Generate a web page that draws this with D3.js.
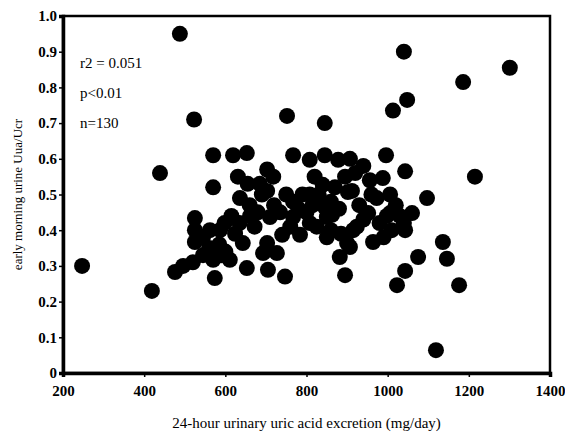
<!DOCTYPE html>
<html>
<head>
<meta charset="utf-8">
<script src="https://cdn.jsdelivr.net/npm/d3@7"></script>
<style>
  body { margin: 0; background: #fff; }
  text { font-family: "Liberation Serif", "DejaVu Serif", serif; }
</style>
</head>
<body>
<svg id="chart"></svg>
<script>
// 24-hour urinary uric acid (mg/day)
const uricAcid = [
  247, 419, 488, 523, 439, 752, 845, 1040, 1186, 1301, 1048, 1013, 1215, 996, 1043, 1097,
  1136, 1146, 1176, 1119, 1075, 1043, 1023, 998, 1060, 1040, 1043,
  570, 619, 653, 631, 570, 703, 636, 525,
  661, 525, 525, 562, 587, 570, 574, 476, 496, 520, 611, 653, 643, 624, 693,
  767, 808, 845, 878, 907, 895, 718, 840, 808, 902, 703, 767, 845, 863,
  703, 727, 705, 747, 740, 784, 808, 850, 882, 895, 900, 915, 710, 767, 850,
  940, 920, 988, 956, 973, 1006, 912, 952, 1006,
  924, 907, 964,
  545, 560, 585, 600, 598, 615, 590, 545, 635, 660, 680, 690, 672, 655, 685,
  720, 735, 750, 760, 780, 790, 800, 815, 825, 830, 860, 870, 880, 885, 860,
  930, 940, 960, 980, 990, 1010, 1020, 1030, 820
]
// early morning urine Uua/Ucr
const uaUcr = [
  0.30, 0.23, 0.95, 0.71, 0.56, 0.72, 0.70, 0.90, 0.815, 0.855, 0.765, 0.735, 0.55, 0.61, 0.565, 0.49,
  0.367, 0.32, 0.246, 0.064, 0.325, 0.286, 0.246, 0.44, 0.448, 0.42, 0.40,
  0.61, 0.61, 0.616, 0.55, 0.52, 0.57, 0.49, 0.434,
  0.44, 0.40, 0.367, 0.40, 0.40, 0.317, 0.266, 0.283, 0.30, 0.31, 0.317, 0.294, 0.364, 0.39, 0.336,
  0.61, 0.597, 0.61, 0.597, 0.60, 0.55, 0.55, 0.527, 0.50, 0.507, 0.51, 0.48, 0.465, 0.443,
  0.364, 0.336, 0.289, 0.27, 0.387, 0.387, 0.42, 0.38, 0.325, 0.274, 0.364, 0.40, 0.437, 0.437, 0.437,
  0.58, 0.56, 0.546, 0.54, 0.49, 0.50, 0.51, 0.448, 0.448,
  0.41, 0.353, 0.367,
  0.38, 0.35, 0.36, 0.34, 0.42, 0.44, 0.33, 0.33, 0.42, 0.47, 0.45, 0.50, 0.41, 0.53, 0.53,
  0.47, 0.45, 0.50, 0.41, 0.46, 0.50, 0.45, 0.47, 0.41, 0.50, 0.48, 0.52, 0.46, 0.39, 0.40,
  0.47, 0.43, 0.50, 0.42, 0.38, 0.40, 0.47, 0.44, 0.55
]
const xTicks = [200, 400, 600, 800, 1000, 1200, 1400]
const yTicks = [0, 0.1, 0.2, 0.3, 0.4, 0.5, 0.6, 0.7, 0.8, 0.9, 1.0]
const yTickLabels = ["0", "0.1", "0.2", "0.3", "0.4", "0.5", "0.6", "0.7", "0.8", "0.9", "1.0"]
const stats = ["r2 = 0.051", "p<0.01", "n=130"]

const width = 565, height = 433
const margin = {top: 16, right: 15, bottom: 60, left: 63}
const w = width - margin.left - margin.right,
      h = height - margin.top - margin.bottom

const svg = d3.select("#chart").attr("width", width).attr("height", height)
const g = svg.append("g").attr("transform", "translate(" + margin.left + "," + margin.top + ")")

const x = d3.scaleLinear().domain([200, 1400]).range([0, w])
const y = d3.scaleLinear().domain([0, 1]).range([h, 0])

// frame
g.append("rect")
  .attr("width", w).attr("height", h)
  .attr("fill", "none").attr("stroke", "#000").attr("stroke-width", 2.5)

const xAxis = g.append("g")
  .attr("transform", "translate(0," + h + ")")
  .call(d3.axisBottom(x).tickValues(xTicks).tickSize(4).tickPadding(8).tickFormat(d3.format("d")))
const yAxis = g.append("g")
  .call(d3.axisLeft(y).tickValues(yTicks).tickSize(4).tickPadding(2).tickFormat((d, i) => yTickLabels[i]))

;[xAxis, yAxis].forEach(a => {
  a.select(".domain").attr("stroke-width", 3.5)
  a.selectAll(".tick line").attr("stroke-width", 1.5)
  a.selectAll("text")
    .style("font-family", "'Liberation Serif', serif")
    .style("font-size", "15px").style("font-weight", "bold").attr("fill", "#000")
})

g.selectAll("circle.dot")
  .data(uricAcid.map((v, i) => [v, uaUcr[i]]))
  .enter().append("circle")
  .attr("class", "dot")
  .attr("cx", d => x(d[0]))
  .attr("cy", d => y(d[1]))
  .attr("r", 8)
  .attr("fill", "#000")

g.selectAll("text.stat")
  .data(stats)
  .enter().append("text")
  .attr("class", "stat")
  .attr("x", 17)
  .attr("y", (d, i) => 52 + i * 30)
  .attr("font-size", 15)
  .text(d => d)

svg.append("text")
  .attr("x", margin.left + w / 2)
  .attr("y", 428)
  .attr("text-anchor", "middle")
  .attr("font-size", 15)
  .text("24-hour urinary uric acid excretion (mg/day)")

svg.append("text")
  .attr("transform", "translate(22," + (margin.top + h / 2) + ") rotate(-90)")
  .attr("text-anchor", "middle")
  .attr("font-size", 13)
  .text("early morning  urine Uua/Ucr")
</script>
</body>
</html>
